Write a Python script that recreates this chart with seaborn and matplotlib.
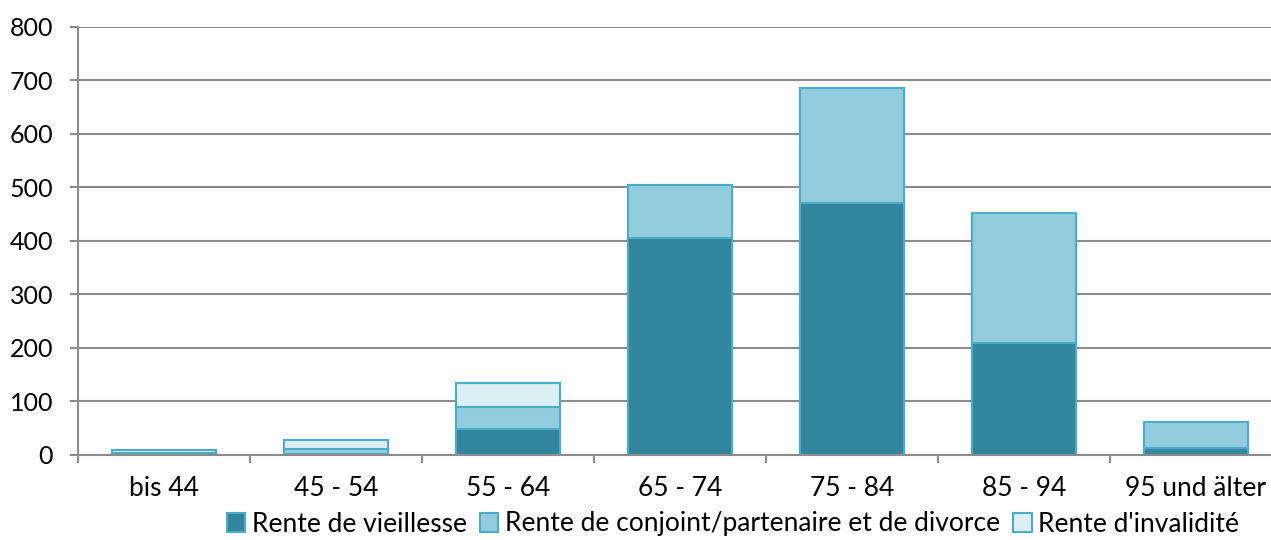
import matplotlib
matplotlib.use("Agg")
import matplotlib.pyplot as plt
import seaborn as sns
import numpy as np
from matplotlib.patches import Patch

# daten
categories = ["bis 44", "45 - 54", "55 - 64", "65 - 74", "75 - 84", "85 - 94", "95 und älter"]
vieillesse = [1, 2, 48, 405, 471, 210, 14]
conjoint = [2, 9, 41, 99, 214, 242, 48]
invalidite = [6, 17, 46, 0, 0, 0, 0]
series_names = ["Rente de vieillesse", "Rente de conjoint/partenaire et de divorce", "Rente d'invalidité"]

c_dark = "#31859C"
c_mid = "#93CDDD"
c_light = "#DBEEF4"
c_edge = "#4BACC6"
grid_c = "#8C8C8C"

sns.set_style("white")
plt.rcParams["font.family"] = ["Lato", "DejaVu Sans"]
plt.rcParams["text.color"] = "black"
plt.rcParams["xtick.color"] = "black"
plt.rcParams["ytick.color"] = "black"

fig = plt.figure(figsize=(12.71, 5.40), dpi=100)
ax = fig.add_axes([78 / 1271, 1 - 455 / 540, 1204 / 1271, 428.3 / 540])

v = np.array(vieillesse)
c = np.array(conjoint)
i = np.array(invalidite)

# gestapelt: oben zuerst zeichnen
for vals, col in [(v + c + i, c_light), (v + c, c_mid), (v, c_dark)]:
    sns.barplot(x=categories, y=vals, color=col, saturation=1, width=0.61,
                edgecolor=c_edge, linewidth=1.5, ax=ax, zorder=3)

ax.set_xlim(-0.5, 6.5)
ax.set_ylim(0, 800)
ax.set_yticks(range(0, 801, 100))
ax.yaxis.grid(True, color=grid_c, linewidth=1.5, zorder=0)
ax.set_axisbelow(True)

for s in ["top", "right"]:
    ax.spines[s].set_visible(False)
for s in ["left", "bottom"]:
    ax.spines[s].set_color(grid_c)
    ax.spines[s].set_linewidth(1.5)
    ax.spines[s].set_zorder(4)

ax.set_xticks(np.arange(-0.5, 7, 1), minor=True)
ax.tick_params(axis="x", which="major", length=0, labelsize=19, pad=15)
ax.tick_params(axis="x", which="minor", length=6, width=1.5, color=grid_c)
ax.tick_params(axis="y", length=6, width=1.5, color=grid_c, labelsize=18, pad=12)
ax.tick_params(left=True, bottom=True, which="both")

handles = [Patch(facecolor=col, edgecolor=c_edge, linewidth=1.5) for col in [c_dark, c_mid, c_light]]
fig.legend(handles, series_names, loc="center", bbox_to_anchor=(733 / 1271, 1 - 524 / 540),
           ncol=3, frameon=False, fontsize=19, handlelength=0.7, handleheight=0.7,
           handletextpad=0.25, columnspacing=0.5, borderpad=0)

fig.savefig("out.png", dpi=100)
